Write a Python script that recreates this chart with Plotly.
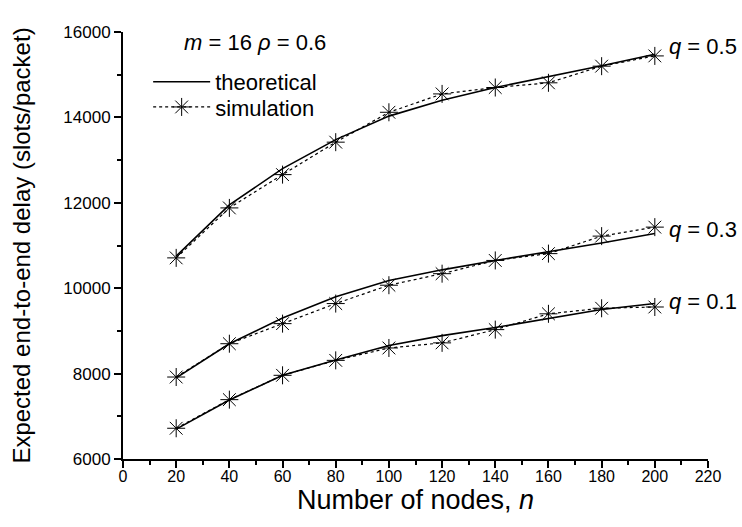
import plotly.graph_objects as go

n_nodes = [20, 40, 60, 80, 100, 120, 140, 160, 180, 200]

theory_q05 = [10750, 11950, 12800, 13480, 14030, 14400, 14700, 14950, 15210, 15480]
sim_q05 = [10710, 11880, 12660, 13420, 14120, 14550, 14700, 14810, 15200, 15440]

theory_q03 = [7900, 8700, 9300, 9800, 10180, 10430, 10650, 10850, 11060, 11280]
sim_q03 = [7920, 8700, 9170, 9640, 10070, 10340, 10650, 10810, 11220, 11430]

theory_q01 = [6700, 7380, 7960, 8320, 8660, 8890, 9080, 9290, 9500, 9640]
sim_q01 = [6720, 7390, 7960, 8310, 8600, 8720, 9030, 9400, 9530, 9560]

q_labels = ["<i>q</i> = 0.5", "<i>q</i> = 0.3", "<i>q</i> = 0.1"]
q_label_y = [15660, 11380, 9690]

FONT = "Liberation Sans, Arial, sans-serif"

fig = go.Figure()
series = [(theory_q05, sim_q05), (theory_q03, sim_q03), (theory_q01, sim_q01)]
for i, (th, sm) in enumerate(series):
    fig.add_trace(go.Scatter(
        x=n_nodes, y=th, mode="lines", name="theoretical",
        line=dict(color="black", width=1.6), showlegend=(i == 0),
        legend="legend",
    ))
    fig.add_trace(go.Scatter(
        x=n_nodes, y=sm, mode="lines+markers", name="simulation",
        line=dict(color="black", width=1.2, dash="dot"),
        marker=dict(symbol="asterisk-open", size=15, color="black",
                    line=dict(color="black", width=1)),
        showlegend=(i == 0), legend="legend2",
    ))

for lab, yv in zip(q_labels, q_label_y):
    fig.add_annotation(x=204.5, y=yv, text=lab, showarrow=False,
                       xanchor="left", yanchor="middle",
                       font=dict(size=22, color="black", family=FONT))

fig.add_annotation(x=22.3, y=15760, text="<i>m</i> = 16 <i>ρ</i> = 0.6",
                   showarrow=False, xanchor="left", yanchor="middle",
                   font=dict(size=22, color="black", family=FONT))

legend_common = dict(xanchor="left", yanchor="middle",
                     bgcolor="rgba(0,0,0,0)", font=dict(size=22, family=FONT),
                     itemwidth=57)

fig.update_layout(
    width=742, height=527,
    margin=dict(l=123, r=34, t=32, b=68),
    paper_bgcolor="white", plot_bgcolor="white",
    font=dict(family=FONT, color="black", size=16),
    legend=dict(x=0.043, y=0.883, **legend_common),
    legend2=dict(x=0.043, y=0.824, **legend_common),
    showlegend=True,
)

fig.update_xaxes(
    range=[0, 220], tickmode="linear", tick0=0, dtick=20,
    showline=True, linecolor="black", linewidth=2,
    ticks="outside", ticklen=7, tickwidth=1.5, tickcolor="black",
    minor=dict(dtick=10, ticks="outside", ticklen=4, tickwidth=1.5, tickcolor="black"),
    showgrid=False, zeroline=False,
    tickfont=dict(size=16, family=FONT),
    ticklabelstandoff=-5,
    title=dict(text="Number of nodes, <i>n</i>", font=dict(size=27, family=FONT), standoff=6),
)
fig.update_yaxes(
    range=[6000, 16000], tickmode="linear", tick0=6000, dtick=2000,
    tickformat="d",
    showline=True, linecolor="black", linewidth=2,
    ticks="outside", ticklen=7, tickwidth=1.5, tickcolor="black",
    minor=dict(dtick=1000, ticks="outside", ticklen=4, tickwidth=1.5, tickcolor="black"),
    showgrid=False, zeroline=False,
    tickfont=dict(size=17, family=FONT),
    title=dict(text="Expected end-to-end delay (slots/packet)", font=dict(size=24, family=FONT), standoff=26),
)

fig.write_html("out.html")
